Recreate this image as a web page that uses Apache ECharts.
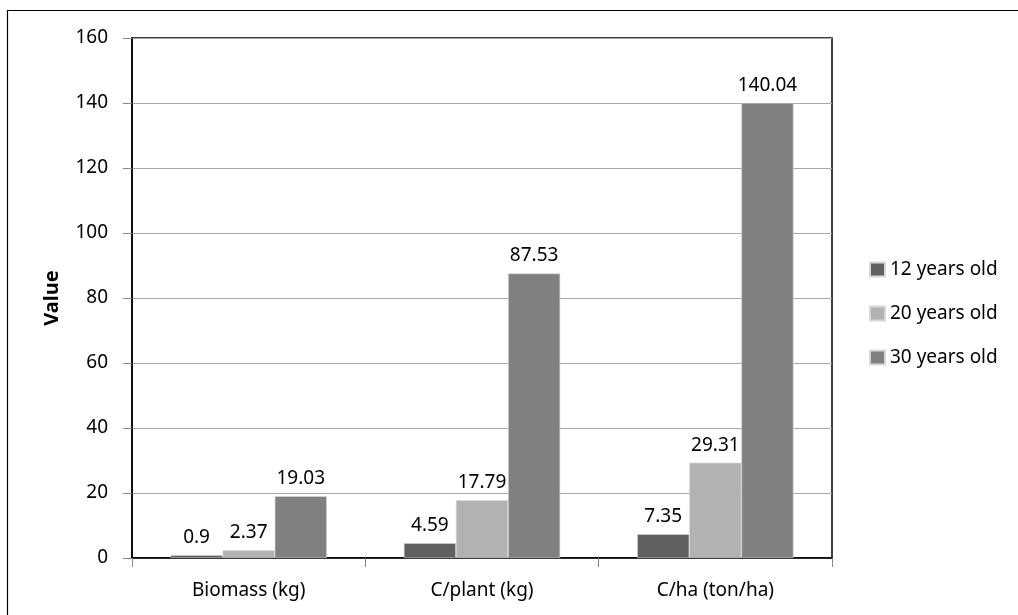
<!DOCTYPE html>
<html>
<head>
<meta charset="utf-8">
<script src="https://cdn.jsdelivr.net/npm/echarts@6/dist/echarts.min.js"></script>
<style>html,body{margin:0;padding:0;background:#fff}#c{width:1018px;height:615px}</style>
</head>
<body>
<div id="c"></div>
<script>
var categories = ['Biomass (kg)', 'C/plant (kg)', 'C/ha (ton/ha)'];
var seriesNames = ['12 years old', '20 years old', '30 years old'];
var values12 = [0.9, 4.59, 7.35];
var values20 = [2.37, 17.79, 29.31];
var values30 = [19.03, 87.53, 140.04];
var yTicks = { min: 0, max: 160, interval: 20 };
var colors = ['#606060', '#b2b2b2', '#808080'];

var font = 'Noto Sans';
var chart = echarts.init(document.getElementById('c'), null, { renderer: 'canvas' });
function mk(name, data, color) {
  return {
    name: name, type: 'bar', data: data, barGap: '0%', barCategoryGap: '33%',
    itemStyle: { color: color, borderColor: '#d8d8d8', borderWidth: 0.6 },
    label: { show: true, position: 'top', distance: 8, color: '#000', fontFamily: font, fontSize: 19 },
    emphasis: { disabled: true }
  };
}
chart.setOption({
  animation: false,
  backgroundColor: '#fff',
  color: colors,
  graphic: [{ type: 'rect', shape: { x: 7.5, y: 10.5, width: 1100, height: 700 }, style: { fill: 'none', stroke: '#000', lineWidth: 1.2 }, silent: true }],
  grid: { left: 132, right: 186, top: 38, bottom: 57, show: true, borderColor: '#000', borderWidth: 1.5, backgroundColor: 'transparent' },
  legend: {
    orient: 'vertical', left: 864, top: 255, itemGap: 25, itemWidth: 15, itemHeight: 14,
    icon: 'rect', textStyle: { fontFamily: font, fontSize: 19, color: '#000' },
    data: seriesNames
  },
  xAxis: {
    type: 'category', data: categories,
    axisLine: { lineStyle: { color: '#000', width: 1.5 } },
    axisTick: { show: true, length: 9, lineStyle: { color: '#888' } },
    axisLabel: { margin: 23, fontFamily: font, fontSize: 19, color: '#000' }
  },
  yAxis: {
    type: 'value', min: yTicks.min, max: yTicks.max, interval: yTicks.interval,
    name: 'Value', nameLocation: 'middle', nameGap: 70,
    nameTextStyle: { fontFamily: font, fontSize: 20, fontWeight: 'bold', color: '#000' },
    axisLine: { show: true, lineStyle: { color: '#000', width: 1.5 } },
    axisTick: { show: true, length: 9, lineStyle: { color: '#888' } },
    splitLine: { lineStyle: { color: '#a8a8a8', width: 1 } },
    axisLabel: { margin: 24, fontFamily: font, fontSize: 19, color: '#000' }
  },
  series: [mk(seriesNames[0], values12, colors[0]), mk(seriesNames[1], values20, colors[1]), mk(seriesNames[2], values30, colors[2])]
});
</script>
</body>
</html>
